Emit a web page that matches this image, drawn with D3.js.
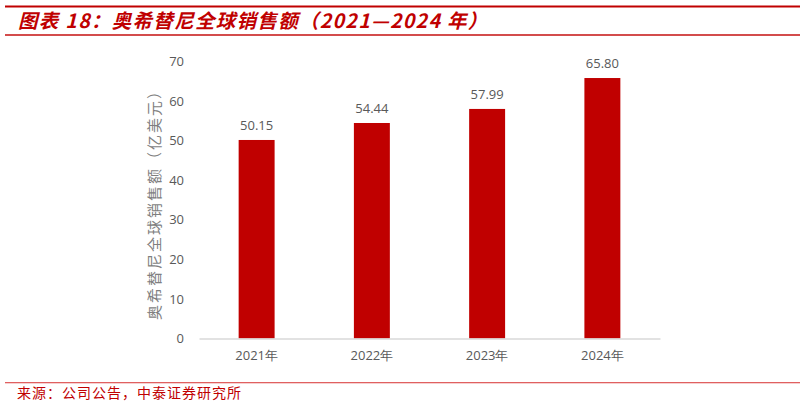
<!DOCTYPE html>
<html><head><meta charset="utf-8">
<script src="https://cdn.jsdelivr.net/npm/d3@7"></script>
<style>
html,body{margin:0;padding:0;background:#fff;}
svg{display:block;}
</style></head>
<body>
<svg id="chart" width="803" height="406"></svg>
<script>
const categories = ["2021年", "2022年", "2023年", "2024年"];
const values = [50.15, 54.44, 57.99, 65.80];
const valueLabels = ["50.15", "54.44", "57.99", "65.80"];
const yTicks = [0, 10, 20, 30, 40, 50, 60, 70];
const titleText = "图表 18：奥希替尼全球销售额（2021—2024 年）";
const yAxisTitle = "奥希替尼全球销售额（亿美元）";
const sourceText = "来源：公司公告，中泰证券研究所";

const svg = d3.select("#chart");
const red = "#c00000";
const grey = "#595959";
const cjk = "'Noto Sans CJK SC', 'Noto Sans', sans-serif";
const num = "'Open Sans', 'Liberation Sans', sans-serif";

// frame lines
svg.append("rect").attr("x", 5).attr("y", 5.5).attr("width", 795).attr("height", 2).attr("fill", red);
svg.append("rect").attr("x", 5).attr("y", 34.3).attr("width", 795).attr("height", 1.4).attr("fill", red);
svg.append("rect").attr("x", 5).attr("y", 382).attr("width", 795).attr("height", 1.3).attr("fill", "#e06060");

svg.append("text").attr("x", 18).attr("y", 28)
  .attr("font-family", cjk).attr("font-size", 19.5).attr("font-weight", "bold")
  .attr("letter-spacing", 1.3)
  .attr("font-style", "italic").attr("fill", red).text(titleText);

svg.append("text").attr("x", 17).attr("y", 398)
  .attr("font-family", cjk).attr("font-size", 14).attr("letter-spacing", 1)
  .attr("fill", red).text(sourceText);

const plot = {left: 199, right: 660, top: 61.4, bottom: 338.5};
const x = d3.scaleBand().domain(categories).range([plot.left, plot.right]).paddingInner(0.688).paddingOuter(0.344);
const y = d3.scaleLinear().domain([0, 70]).range([plot.bottom, plot.top]);

// y tick labels
const yAxis = d3.axisLeft(y).tickValues(yTicks).tickSize(0).tickPadding(0);
const gy = svg.append("g").attr("transform", `translate(${184},0)`).call(yAxis);
gy.select(".domain").remove();
gy.selectAll("text").attr("font-family", num).attr("font-size", 13).attr("fill", grey);

// bars
svg.append("g").selectAll("rect").data(values).join("rect")
  .attr("x", (d, i) => x(categories[i]))
  .attr("width", x.bandwidth())
  .attr("y", d => y(d))
  .attr("height", d => y(0) - y(d))
  .attr("fill", red);

// baseline / x axis
const xAxis = d3.axisBottom(x).tickSize(0).tickPadding(12);
const gx = svg.append("g").attr("transform", `translate(0,${plot.bottom})`).call(xAxis);
gx.select(".domain").attr("stroke", "#d9d9d9").attr("stroke-width", 1.3);
gx.selectAll("text").attr("font-family", num).attr("font-size", 13).attr("fill", grey);

// value labels
svg.append("g").selectAll("text").data(values).join("text")
  .attr("x", (d, i) => x(categories[i]) + x.bandwidth() / 2)
  .attr("y", d => y(d) - 10)
  .attr("text-anchor", "middle")
  .attr("font-family", num).attr("font-size", 13).attr("fill", grey)
  .text((d, i) => valueLabels[i]);

// y axis title
svg.append("text")
  .attr("transform", `translate(160,201) rotate(-90)`)
  .attr("text-anchor", "middle")
  .attr("font-family", "'Noto Sans CJK SC', serif").attr("font-size", 15).attr("letter-spacing", 2)
  .attr("fill", "#7f7f7f").text(yAxisTitle);
</script>
</body></html>
